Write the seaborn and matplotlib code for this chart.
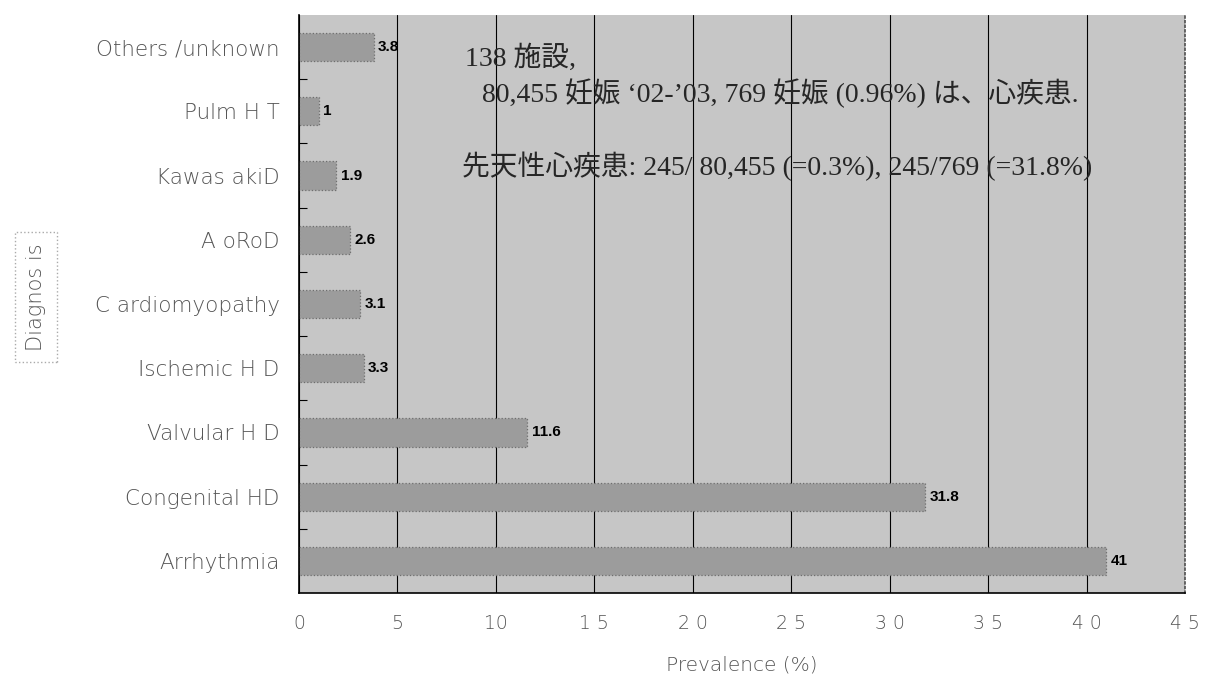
import matplotlib
matplotlib.use("Agg")
import matplotlib.pyplot as plt
import seaborn as sns
import pandas as pd
import numpy as np

categories = ["Others /unknown", "Pulm H T", "Kawas akiD", "A oRoD", "C ardiomyopathy",
              "Ischemic H D", "Valvular H D", "Congenital HD", "Arrhythmia"]
values = [3.8, 1, 1.9, 2.6, 3.1, 3.3, 11.6, 31.8, 41]
value_labels = ["3.8", "1", "1.9", "2.6", "3.1", "3.3", "11.6", "31.8", "41"]
xticks = [0, 5, 10, 15, 20, 25, 30, 35, 40, 45]
xtick_labels = ["0", "5", "10", "1 5", "2 0", "2 5", "3 0", "3 5", "4 0", "4 5"]
note_lines = ["138 施設,",
              "80,455 妊娠 ‘02-’03, 769 妊娠 (0.96%) は、心疾患.",
              "先天性心疾患: 245/ 80,455 (=0.3%), 245/769 (=31.8%)"]

sns.set_theme(style="white")
plt.rcParams['font.family'] = ['DejaVu Sans', 'Noto Sans CJK JP']

df = pd.DataFrame({"Diagnosis": categories, "Prevalence": values})

fig = plt.figure(figsize=(12.05, 6.74), dpi=100)
ax = fig.add_axes([299/1205, 1-593/674, (1185-299)/1205, (593-15)/674])
ax.set_facecolor("#c6c6c6")

sns.barplot(data=df, y="Diagnosis", x="Prevalence", orient="h", order=categories,
            color="#9c9c9c", width=0.44, ax=ax, saturation=1,
            edgecolor="#6e6e6e", linewidth=0.9, linestyle=":")

ax.bar_label(ax.containers[0], labels=value_labels, padding=3,
             fontsize=11, fontweight="bold", color="black", family="Liberation Sans")

ax.set_xlim(0, 45)
ax.set_ylim(len(categories) - 0.5, -0.5)
ax.set_xticks(xticks)
ax.set_xticklabels(xtick_labels, fontsize=13.5, color="#555555", fontweight="light")
ax.set_yticks(range(len(categories)))
ax.set_yticklabels(categories, fontsize=15.5, color="#555555", fontweight="light")
ax.set_yticks(np.arange(0.5, len(categories) - 0.5, 1), minor=True)
ax.tick_params(axis="y", which="major", length=0, pad=14)
ax.tick_params(axis="y", which="minor", length=6, direction="in", color="black", width=0.8, left=True)
ax.tick_params(axis="x", which="major", length=0, pad=15)

ax.grid(axis="x", color="black", linewidth=0.8)
ax.set_axisbelow(True)
for s in ["left", "bottom"]:
    ax.spines[s].set_color("black")
    ax.spines[s].set_linewidth(1.2)
ax.spines["top"].set_visible(False)
ax.spines["right"].set_color("#555555")
ax.spines["right"].set_linestyle(":")

ax.set_xlabel("Prevalence (%)", fontsize=14.5, color="#555555", fontweight="light", labelpad=16)
ax.set_ylabel("")
fig.text(36/1205, 1-297/674, "Diagnos is", rotation=90, fontsize=15, color="#555555",
         fontweight="light", ha="center", va="center",
         bbox=dict(facecolor="white", edgecolor="#aaaaaa", linestyle=":", pad=8))

serif = ['Liberation Serif', 'Noto Sans CJK JP']
ax.text((465-299)/886, 1-(58-15)/578, note_lines[0], transform=ax.transAxes,
        fontsize=20, family=serif, va="center", ha="left")
ax.text((482-299)/886, 1-(93-15)/578, note_lines[1], transform=ax.transAxes,
        fontsize=20, family=serif, va="center", ha="left")
ax.text((462-299)/886, 1-(166-15)/578, note_lines[2], transform=ax.transAxes,
        fontsize=20, family=serif, va="center", ha="left")

fig.savefig("out.png", dpi=100, facecolor="white")
